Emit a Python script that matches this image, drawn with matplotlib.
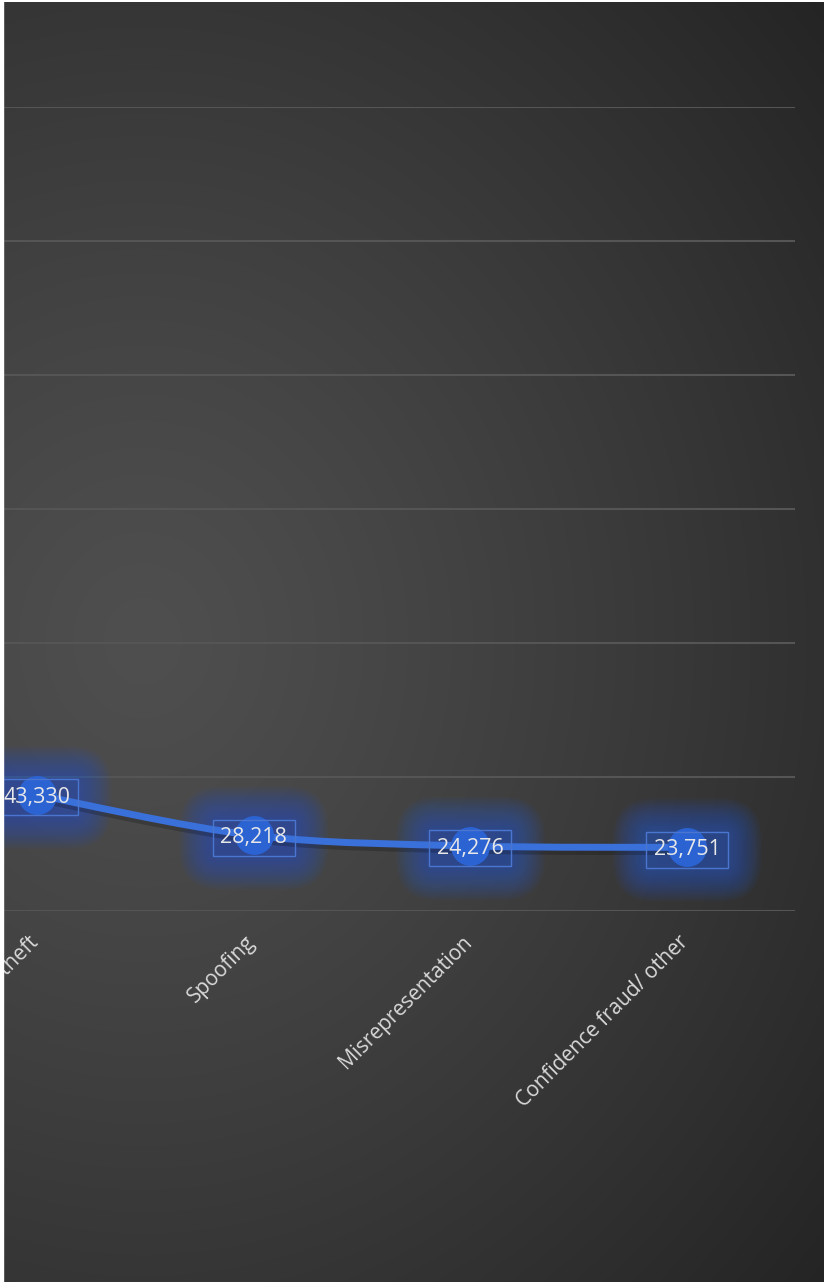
import numpy as np
import matplotlib.pyplot as plt
import matplotlib.patheffects as pe
import matplotlib.transforms as mtransforms
from matplotlib.path import Path
from matplotlib.patches import PathPatch, Rectangle

plt.rcParams['font.family'] = ['Open Sans', 'DejaVu Sans']

categories = ['Identity theft', 'Spoofing', 'Misrepresentation', 'Confidence fraud/ other']
victims = [43330, 28218, 24276, 23751]
y_ticks = [0, 50000, 100000, 150000, 200000, 250000, 300000]

W, H = 825, 1283
fig = plt.figure(figsize=(W / 100, H / 100), dpi=100, facecolor='white')

# radial gradient background (chart area)
bg = fig.add_axes([3 / W, 1 / H, (W - 4) / W, (H - 3) / H])
yy, xx = np.mgrid[0:H, 0:W]
d = np.hypot(xx - 140, (yy - 640) * 0.9) / 900
t = np.clip(d, 0, 1) ** 1.2
light, dark = 0x4f / 255, 0x24 / 255
shade = light * (1 - t) + dark * t
bg.imshow(np.dstack([shade, shade, shade]), aspect='auto')
bg.axis('off')

# plot area
s = (687 - 37) / 3
left_px = 37 - s / 2
right_px = 687 + s / 2
ax = fig.add_axes([left_px / W, (H - 911) / H, (right_px - left_px) / W, (911 - 107) / H])
ax.set_facecolor('none')
ax.set_xlim(-0.5, len(categories) - 0.5)
ax.set_ylim(0, 300000)
ax.set_yticks(y_ticks)
ax.yaxis.grid(True, color='#555555', lw=1.5)
ax.set_axisbelow(True)
ax.tick_params(axis='y', length=0, labelleft=False)
for sp in ax.spines.values():
    sp.set_visible(False)

x = np.arange(len(categories))
ax.set_xticks(x)
ax.set_xticklabels(categories, rotation=45, ha='right', fontsize=15, color='#d9d9d9')
ax.tick_params(axis='x', length=0, pad=15)
off = mtransforms.ScaledTranslation(6 / 100, 0, fig.dpi_scale_trans)
for lab in ax.get_xticklabels():
    lab.set_transform(lab.get_transform() + off)

blue = '#2b63d3'

# glow behind each point/label
for xi, v in zip(x, victims):
    for p in np.linspace(0.4, 1.9, 16):
        ax.text(xi, v, f'{v:,}', ha='center', va='center_baseline', fontsize=15.5, color='none',
                zorder=2,
                bbox=dict(boxstyle=f'round,pad={p:.3f}', fc='#2a58c0', ec='none', alpha=0.06))

# smoothed line (Catmull-Rom -> Bezier)
pts = np.column_stack([x, victims]).astype(float)
verts = [tuple(pts[0])]
codes = [Path.MOVETO]
for i in range(len(pts) - 1):
    p0 = pts[max(i - 1, 0)]
    p1 = pts[i]
    p2 = pts[i + 1]
    p3 = pts[min(i + 2, len(pts) - 1)]
    c1 = p1 + (p2 - p0) / 6
    c2 = p2 - (p3 - p1) / 6
    verts += [tuple(c1), tuple(c2), tuple(p2)]
    codes += [Path.CURVE4] * 3
line = PathPatch(Path(verts, codes), fill=False, ec='#3a70da', lw=5, capstyle='round', zorder=3)
line.set_path_effects([pe.SimpleLineShadow(offset=(0, -3), shadow_color='black', alpha=0.2),
                       pe.Normal()])
ax.add_patch(line)

ax.plot(x, victims, 'o', ms=28, mfc=blue, mec='none', zorder=4)

for xi, v in zip(x, victims):
    ax.text(xi, v, f'{v:,}', ha='center', va='center_baseline', fontsize=15.5, color='#e8e8e8',
            zorder=5, bbox=dict(boxstyle='square,pad=0.35', fc='none', ec='#4a76d0', lw=1))

# thin white frame on the left edge
fig.add_artist(Rectangle((0, 0), 3 / W, 1, transform=fig.transFigure, color='white', zorder=20))

fig.savefig('out.png', dpi=100, facecolor='white')
